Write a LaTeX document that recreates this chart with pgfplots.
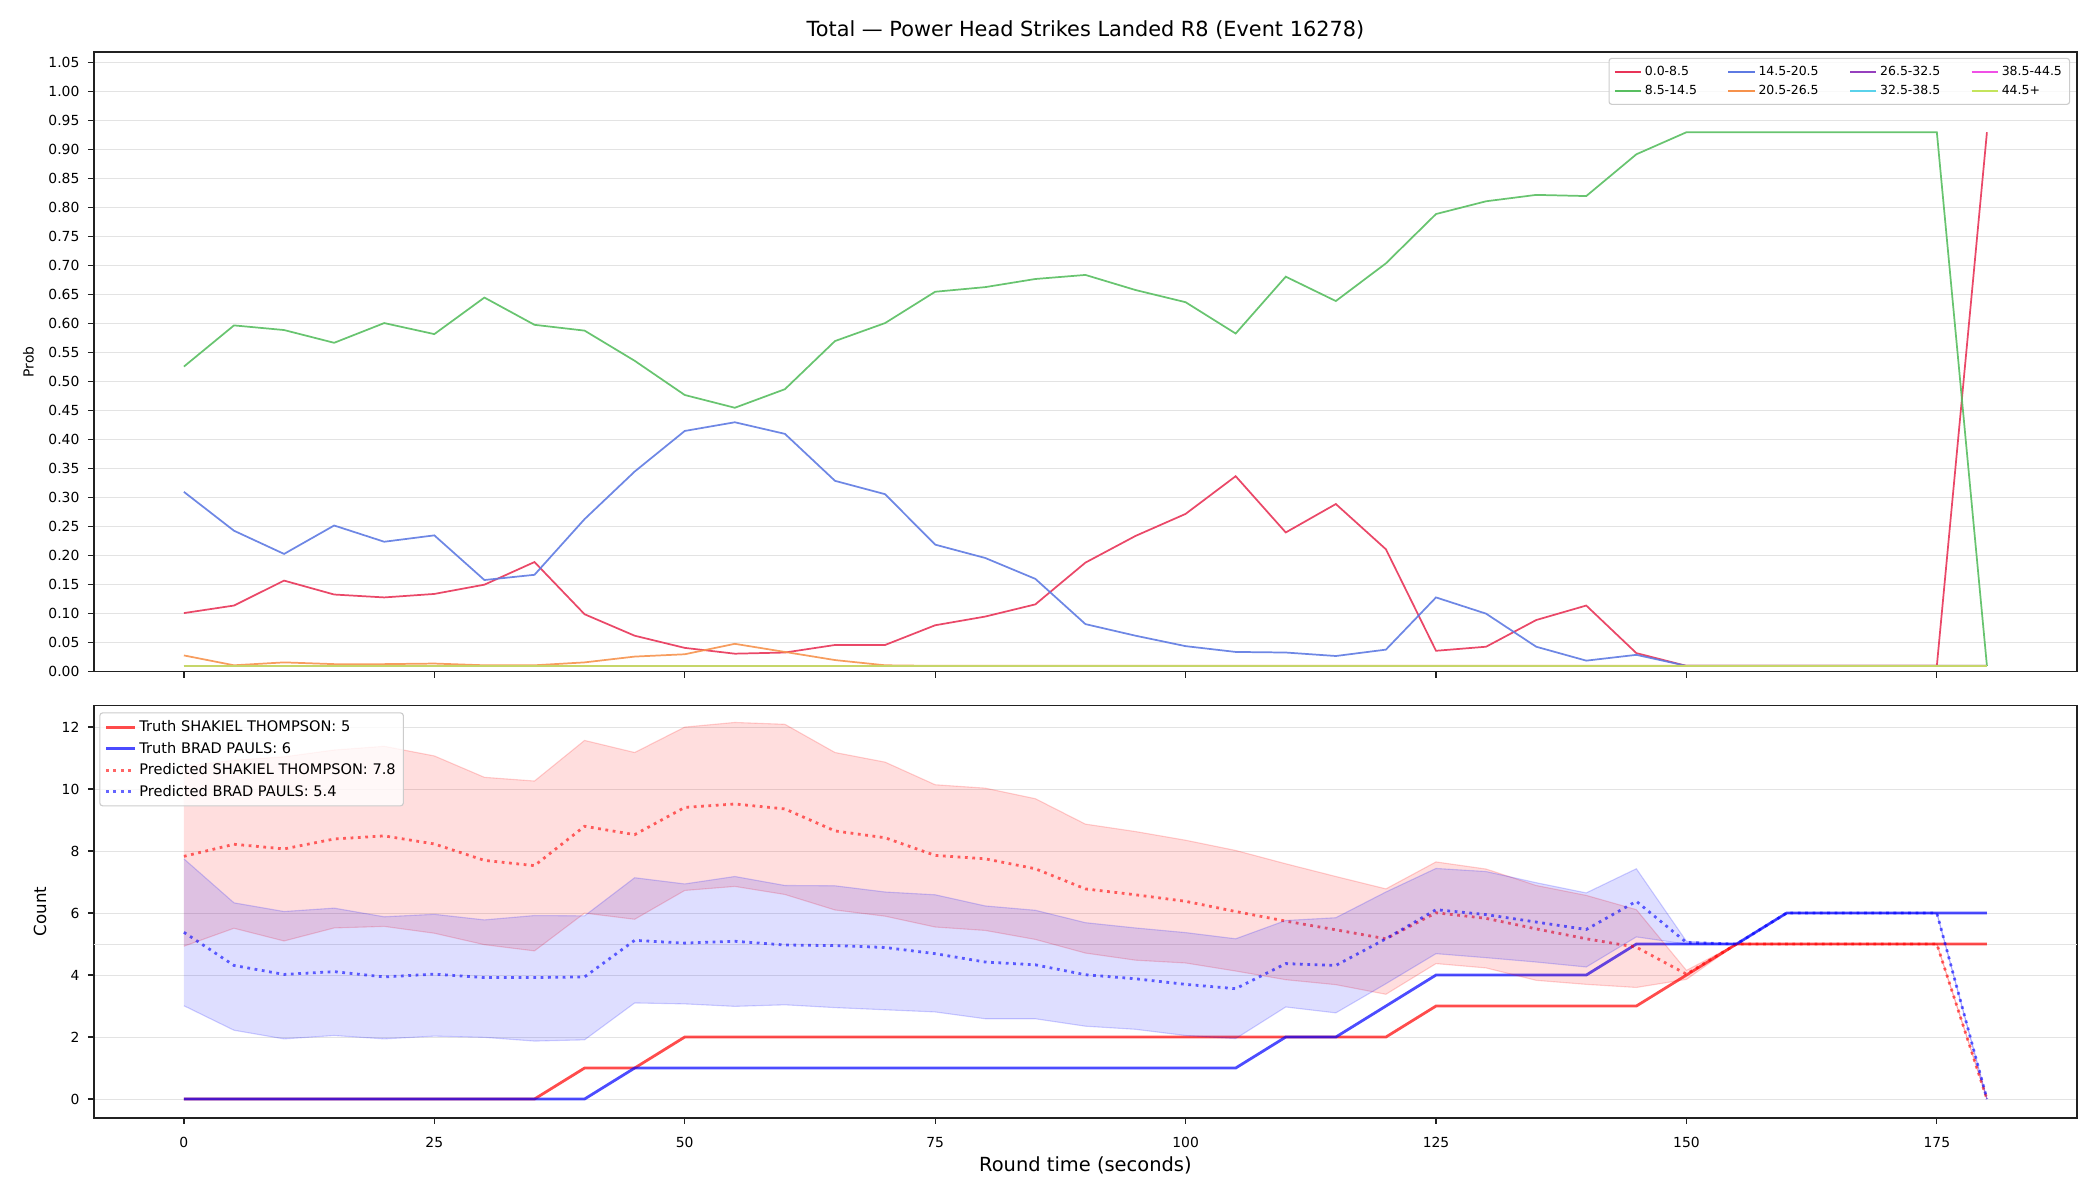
\documentclass[border=0pt]{standalone}
\usepackage{fontspec}
\setmainfont{DejaVu Sans}
\usepackage{pgfplots}
\pgfplotsset{compat=1.18}
\usepackage{pgfplotstable}

\definecolor{c0}{RGB}{232,52,88}
\definecolor{c1}{RGB}{88,190,96}
\definecolor{c2}{RGB}{94,122,226}
\definecolor{c3}{RGB}{246,146,76}
\definecolor{c4}{RGB}{150,64,190}
\definecolor{c5}{RGB}{90,210,235}
\definecolor{c6}{RGB}{240,80,230}
\definecolor{c7}{RGB}{196,228,92}
\definecolor{tred}{RGB}{255,0,0}
\definecolor{tblue}{RGB}{0,0,255}

\pgfplotstableread{
x r g b o z
0 0.101 0.526 0.310 0.028 0.01
5 0.114 0.597 0.243 0.011 0.01
10 0.157 0.589 0.203 0.016 0.01
15 0.133 0.567 0.252 0.013 0.01
20 0.128 0.601 0.224 0.013 0.01
25 0.134 0.582 0.235 0.014 0.01
30 0.150 0.645 0.158 0.011 0.01
35 0.189 0.598 0.167 0.011 0.01
40 0.099 0.588 0.263 0.016 0.01
45 0.062 0.536 0.345 0.026 0.01
50 0.041 0.477 0.415 0.030 0.01
55 0.031 0.455 0.430 0.048 0.01
60 0.033 0.487 0.410 0.034 0.01
65 0.046 0.570 0.329 0.020 0.01
70 0.046 0.601 0.306 0.011 0.01
75 0.080 0.655 0.219 0.010 0.01
80 0.095 0.663 0.196 0.010 0.01
85 0.116 0.677 0.160 0.010 0.01
90 0.188 0.684 0.082 0.010 0.01
95 0.234 0.658 0.062 0.010 0.01
100 0.272 0.637 0.044 0.010 0.01
105 0.337 0.583 0.034 0.010 0.01
110 0.240 0.681 0.033 0.010 0.01
115 0.289 0.639 0.027 0.010 0.01
120 0.211 0.704 0.038 0.010 0.01
125 0.036 0.789 0.128 0.010 0.01
130 0.043 0.811 0.100 0.010 0.01
135 0.089 0.822 0.043 0.010 0.01
140 0.114 0.820 0.019 0.010 0.01
145 0.032 0.892 0.029 0.010 0.01
150 0.010 0.930 0.010 0.010 0.01
155 0.010 0.930 0.010 0.010 0.01
160 0.010 0.930 0.010 0.010 0.01
165 0.010 0.930 0.010 0.010 0.01
170 0.010 0.930 0.010 0.010 0.01
175 0.010 0.930 0.010 0.010 0.01
180 0.930 0.010 0.010 0.010 0.01
}\toptab

\pgfplotstableread{
x rt bt rm rlo rhi bm blo bhi
0 0 0 7.83 4.93 10.73 5.38 3.01 7.75
5 0 0 8.22 5.51 10.93 4.31 2.22 6.33
10 0 0 8.07 5.10 11.04 4.02 1.94 6.05
15 0 0 8.39 5.52 11.26 4.11 2.05 6.16
20 0 0 8.49 5.57 11.38 3.94 1.94 5.88
25 0 0 8.23 5.35 11.07 4.03 2.03 5.96
30 0 0 7.70 4.98 10.38 3.92 1.99 5.78
35 0 0 7.53 4.78 10.26 3.92 1.87 5.92
40 1 0 8.80 6.00 11.57 3.94 1.91 5.91
45 1 1 8.53 5.80 11.18 5.12 3.10 7.14
50 2 1 9.41 6.73 12.00 5.03 3.07 6.94
55 2 1 9.52 6.86 12.15 5.09 2.99 7.18
60 2 1 9.36 6.60 12.09 4.97 3.04 6.89
65 2 1 8.65 6.10 11.18 4.95 2.95 6.88
70 2 1 8.43 5.90 10.87 4.89 2.88 6.68
75 2 1 7.86 5.55 10.14 4.69 2.81 6.59
80 2 1 7.75 5.44 10.03 4.42 2.59 6.23
85 2 1 7.43 5.15 9.69 4.33 2.59 6.09
90 2 1 6.78 4.71 8.87 4.01 2.35 5.69
95 2 1 6.59 4.48 8.63 3.88 2.25 5.52
100 2 1 6.38 4.39 8.35 3.70 2.05 5.37
105 2 1 6.05 4.13 8.02 3.56 1.95 5.17
110 2 2 5.74 3.85 7.59 4.37 2.97 5.76
115 2 2 5.46 3.69 7.18 4.31 2.78 5.85
120 2 3 5.17 3.38 6.78 5.17 3.72 6.68
125 3 4 6.01 4.37 7.65 6.11 4.69 7.44
130 3 4 5.83 4.23 7.42 5.95 4.56 7.34
135 3 4 5.49 3.83 6.89 5.71 4.42 6.98
140 3 4 5.17 3.70 6.57 5.47 4.26 6.65
145 3 5 4.90 3.60 6.11 6.38 5.23 7.43
150 4 5 4.03 3.86 4.15 5.05 5.00 5.09
155 5 5 5 5 5 5 5 5
160 5 6 5 5 5 6 6 6
165 5 6 5 5 5 6 6 6
170 5 6 5 5 5 6 6 6
175 5 6 5 5 5 6 6 6
180 5 6 0 0 0 0 0 0
}\bottab

\pgfplotsset{
  mpl/.style={
    scale only axis, width=1428pt,
    xmin=-9, xmax=189,
    axis line style={black!87, line width=1.1pt},
    tick style={black!87, line width=0.9pt},
    major tick length=4.3pt, tick align=outside,
    xtick pos=left, ytick pos=left,
    ymajorgrids, grid style={black!11, line width=0.7pt},
    tick label style={font=\fontsize{10}{12}\selectfont},
    yticklabel style={xshift=-2.5pt},
    xticklabel style={yshift=-6pt},
    /pgf/number format/assume math mode=true,
    legend cell align=left,
  },
  topline/.style={line width=1.25pt, opacity=0.9, forget plot},
}

\begin{document}
\begin{tikzpicture}
\useasboundingbox (-67.5pt,-380.4pt) rectangle (1444.5pt,483.6pt);

% ---------- top panel ----------
\begin{axis}[mpl,
  at={(0,0)}, anchor=south west, height=446pt,
  ymin=0, ymax=1.068,
  xtick={0,25,...,175}, xticklabels={},
  ytick distance=0.05,
  yticklabel style={/pgf/number format/.cd, fixed, fixed zerofill, precision=2},
  ylabel={Prob},
  ylabel style={font=\fontsize{10}{12}\selectfont, at={([xshift=-47pt]axis description cs:0,0.5)}, anchor=center},
  title={Total — Power Head Strikes Landed R8 (Event 16278)},
  title style={font=\fontsize{15}{18}\selectfont, at={([yshift=10pt]axis description cs:0.5,1)}, anchor=center},
  legend columns=4,
  legend image code/.code={\draw[#1] (0pt,0pt) -- (19pt,0pt);},
  legend style={at={(1,1)}, anchor=north east, xshift=-5pt, yshift=-4pt,
    font=\fontsize{9}{10.8}\selectfont, draw=black!20, line width=0.8pt,
    rounded corners=2pt, fill=white, fill opacity=0.8, text opacity=1,
    inner sep=3.5pt, row sep=1.8pt,
    /tikz/every even column/.append style={column sep=20pt}},
]
\addplot[topline, c0] table[x=x, y=r]{\toptab};
\addplot[topline, c1] table[x=x, y=g]{\toptab};
\addplot[topline, c2] table[x=x, y=b]{\toptab};
\addplot[topline, c3] table[x=x, y=o]{\toptab};
\addplot[topline, c4] table[x=x, y=z]{\toptab};
\addplot[topline, c5] table[x=x, y=z]{\toptab};
\addplot[topline, c6] table[x=x, y=z]{\toptab};
\addplot[topline, c7] table[x=x, y=z]{\toptab};
\addlegendimage{c0, line width=1.25pt}\addlegendentry{0.0-8.5}
\addlegendimage{c2, line width=1.25pt}\addlegendentry{14.5-20.5}
\addlegendimage{c4, line width=1.25pt}\addlegendentry{26.5-32.5}
\addlegendimage{c6, line width=1.25pt}\addlegendentry{38.5-44.5}
\addlegendimage{c1, line width=1.25pt}\addlegendentry{8.5-14.5}
\addlegendimage{c3, line width=1.25pt}\addlegendentry{20.5-26.5}
\addlegendimage{c5, line width=1.25pt}\addlegendentry{32.5-38.5}
\addlegendimage{c7, line width=1.25pt}\addlegendentry{44.5+}
\end{axis}

% ---------- bottom panel ----------
\begin{axis}[mpl,
  at={(0,-24.3pt)}, anchor=north west, height=296.9pt,
  ymin=-0.605, ymax=12.7,
  xtick={0,25,...,175}, ytick={0,2,...,12},
  ylabel={Count},
  ylabel style={font=\fontsize{12}{14.4}\selectfont, at={([xshift=-38.7pt]axis description cs:0,0.5)}, anchor=center},
  xlabel={Round time (seconds)},
  xlabel style={font=\fontsize{14}{16.8}\selectfont, at={([yshift=-34pt]axis description cs:0.5,0)}, anchor=center},
  legend image code/.code={\draw[#1] (0pt,0pt) -- (21pt,0pt);},
  legend style={at={(0,1)}, anchor=north west, xshift=4pt, yshift=-5pt,
    font=\fontsize{10.5}{12.6}\selectfont, draw=black!20, line width=0.8pt,
    rounded corners=2pt, fill=white, fill opacity=0.8, text opacity=1,
    inner sep=3.5pt, row sep=2pt},
]
\addplot[black!11, line width=0.7pt, forget plot] coordinates {(-9,5) (189,5)};
% truth
\addplot[tred, opacity=0.7, line width=2pt] table[x=x, y=rt]{\bottab};
\addlegendentry{Truth SHAKIEL THOMPSON: 5}
\addplot[tblue, opacity=0.7, line width=2pt] table[x=x, y=bt]{\bottab};
\addlegendentry{Truth BRAD PAULS: 6}
% red band (upper edge forward, lower edge back)
\addplot[fill=tred, fill opacity=0.13, draw=none, forget plot] coordinates {
(0,10.73)(5,10.93)(10,11.04)(15,11.26)(20,11.38)(25,11.07)(30,10.38)(35,10.26)(40,11.57)(45,11.18)(50,12.00)(55,12.15)(60,12.09)(65,11.18)(70,10.87)(75,10.14)(80,10.03)(85,9.69)(90,8.87)(95,8.63)(100,8.35)(105,8.02)(110,7.59)(115,7.18)(120,6.78)(125,7.65)(130,7.42)(135,6.89)(140,6.57)(145,6.11)(150,4.15)(155,5)(160,5)(165,5)(170,5)(175,5)(180,0)
(175,5)(170,5)(165,5)(160,5)(155,5)(150,3.86)(145,3.60)(140,3.70)(135,3.83)(130,4.23)(125,4.37)(120,3.38)(115,3.69)(110,3.85)(105,4.13)(100,4.39)(95,4.48)(90,4.71)(85,5.15)(80,5.44)(75,5.55)(70,5.90)(65,6.10)(60,6.60)(55,6.86)(50,6.73)(45,5.80)(40,6.00)(35,4.78)(30,4.98)(25,5.35)(20,5.57)(15,5.52)(10,5.10)(5,5.51)(0,4.93)
};
\addplot[tred, draw opacity=0.18, line width=0.8pt, forget plot] table[x=x, y=rhi]{\bottab};
\addplot[tred, draw opacity=0.18, line width=0.8pt, forget plot] table[x=x, y=rlo]{\bottab};
\addplot[tred, opacity=0.6, line width=2pt, dash pattern=on 2pt off 3.3pt] table[x=x, y=rm]{\bottab};
\addlegendentry{Predicted SHAKIEL THOMPSON: 7.8}
% blue band
\addplot[fill=tblue, fill opacity=0.13, draw=none, forget plot] coordinates {
(0,7.75)(5,6.33)(10,6.05)(15,6.16)(20,5.88)(25,5.96)(30,5.78)(35,5.92)(40,5.91)(45,7.14)(50,6.94)(55,7.18)(60,6.89)(65,6.88)(70,6.68)(75,6.59)(80,6.23)(85,6.09)(90,5.69)(95,5.52)(100,5.37)(105,5.17)(110,5.76)(115,5.85)(120,6.68)(125,7.44)(130,7.34)(135,6.98)(140,6.65)(145,7.43)(150,5.09)(155,5)(160,6)(165,6)(170,6)(175,6)(180,0)
(175,6)(170,6)(165,6)(160,6)(155,5)(150,5.00)(145,5.23)(140,4.26)(135,4.42)(130,4.56)(125,4.69)(120,3.72)(115,2.78)(110,2.97)(105,1.95)(100,2.05)(95,2.25)(90,2.35)(85,2.59)(80,2.59)(75,2.81)(70,2.88)(65,2.95)(60,3.04)(55,2.99)(50,3.07)(45,3.10)(40,1.91)(35,1.87)(30,1.99)(25,2.03)(20,1.94)(15,2.05)(10,1.94)(5,2.22)(0,3.01)
};
\addplot[tblue, draw opacity=0.18, line width=0.8pt, forget plot] table[x=x, y=bhi]{\bottab};
\addplot[tblue, draw opacity=0.18, line width=0.8pt, forget plot] table[x=x, y=blo]{\bottab};
\addplot[tblue, opacity=0.6, line width=2pt, dash pattern=on 2pt off 3.3pt] table[x=x, y=bm]{\bottab};
\addlegendentry{Predicted BRAD PAULS: 5.4}
\end{axis}
\end{tikzpicture}
\end{document}
